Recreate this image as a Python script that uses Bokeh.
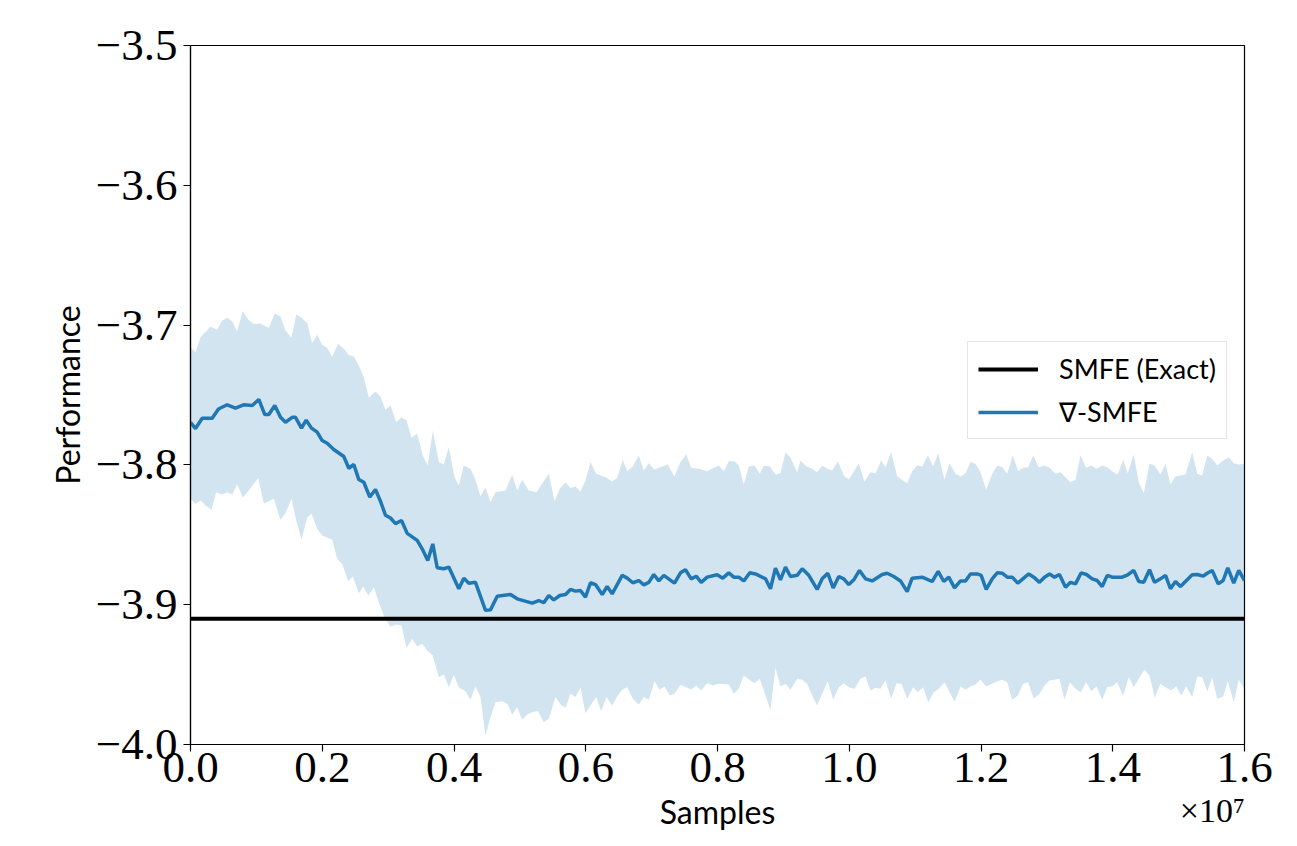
from bokeh.plotting import figure
from bokeh.models import Range1d, FixedTicker, Legend, LegendItem, LinearAxis
from bokeh.embed import file_html
from bokeh.resources import INLINE

# ---------------- data (x in units of 1e7 samples) ----------------
mean_x = [0.0, 0.0076, 0.0178, 0.0329, 0.0425, 0.0557, 0.0683, 0.0805, 0.0937, 0.1037,
          0.1128, 0.1189, 0.128, 0.1366, 0.1442, 0.1544, 0.1594, 0.1685, 0.1756, 0.1837,
          0.1923, 0.1999, 0.2075, 0.2175, 0.2327, 0.2403, 0.2479, 0.2555, 0.2631, 0.2722,
          0.2808, 0.2884, 0.296, 0.3036, 0.3112, 0.3203, 0.329, 0.3441, 0.3517, 0.3602,
          0.3678, 0.3745, 0.3845, 0.3921, 0.4073, 0.4149, 0.4225, 0.4326, 0.4478, 0.4554,
          0.4656, 0.4858, 0.4959, 0.5187, 0.5287, 0.5363, 0.5439, 0.5515, 0.5606, 0.5693,
          0.5768, 0.5844, 0.592, 0.5996, 0.6072, 0.6148, 0.625, 0.6325, 0.6401, 0.6553,
          0.6629, 0.6714, 0.6805, 0.6881, 0.6957, 0.7033, 0.7109, 0.7185, 0.7347, 0.7438,
          0.7514, 0.7601, 0.7677, 0.7752, 0.7844, 0.7995, 0.808, 0.8171, 0.8247, 0.8323,
          0.8399, 0.849, 0.8577, 0.8729, 0.8804, 0.888, 0.8956, 0.9032, 0.9108, 0.921,
          0.9286, 0.9386, 0.9513, 0.9589, 0.9674, 0.9756, 0.9841, 0.9917, 0.9993, 1.0069,
          1.0155, 1.0247, 1.0348, 1.05, 1.0576, 1.0676, 1.0778, 1.0879, 1.0955, 1.1107,
          1.1259, 1.135, 1.1435, 1.1511, 1.1598, 1.1689, 1.1765, 1.184, 1.1942, 1.2003,
          1.2079, 1.217, 1.2246, 1.2322, 1.2398, 1.2474, 1.2558, 1.2649, 1.2725, 1.2801,
          1.2888, 1.2964, 1.304, 1.3116, 1.3191, 1.3283, 1.3359, 1.3435, 1.3521, 1.3601,
          1.3688, 1.3764, 1.384, 1.3916, 1.3991, 1.4143, 1.4228, 1.4319, 1.4395, 1.4471,
          1.4558, 1.4634, 1.4725, 1.4801, 1.4876, 1.4952, 1.5028, 1.5104, 1.5206, 1.5282,
          1.5373, 1.5434, 1.551, 1.56, 1.5676, 1.5746, 1.5837, 1.5913, 1.6]
mean_y = [-3.7695, -3.774, -3.7666, -3.7666, -3.760, -3.757, -3.7594, -3.757, -3.7575, -3.7532,
          -3.764, -3.764, -3.7575, -3.766, -3.7695, -3.766, -3.766, -3.7737, -3.768, -3.7737,
          -3.7766, -3.7826, -3.7845, -3.789, -3.794, -3.8024, -3.7997, -3.8105, -3.8124, -3.823,
          -3.8176, -3.826, -3.836, -3.838, -3.842, -3.8398, -3.849, -3.854, -3.860, -3.8684,
          -3.8565, -3.8736, -3.8743, -3.8731, -3.8886, -3.881, -3.8846, -3.884, -3.904, -3.9037,
          -3.894, -3.8927, -3.8958, -3.8989, -3.897, -3.8986, -3.8934, -3.8965, -3.8934, -3.8927,
          -3.8891, -3.8903, -3.8898, -3.8946, -3.8843, -3.8856, -3.8927, -3.887, -3.8922, -3.879,
          -3.881, -3.8843, -3.8827, -3.8858, -3.884, -3.8784, -3.883, -3.879, -3.8846, -3.8772,
          -3.875, -3.8815, -3.8796, -3.884, -3.8803, -3.8786, -3.881, -3.8772, -3.8803, -3.8803,
          -3.883, -3.8772, -3.878, -3.8815, -3.8886, -3.8738, -3.8822, -3.8731, -3.8798, -3.879,
          -3.8743, -3.879, -3.8891, -3.8815, -3.8775, -3.888, -3.8798, -3.8815, -3.8856, -3.8822,
          -3.8755, -3.8815, -3.883, -3.8784, -3.8775, -3.8798, -3.883, -3.8906, -3.881, -3.8803,
          -3.8834, -3.8762, -3.8834, -3.8803, -3.888, -3.883, -3.883, -3.878, -3.878, -3.879,
          -3.8891, -3.8815, -3.8772, -3.8775, -3.8803, -3.8803, -3.8846, -3.881, -3.878, -3.8803,
          -3.884, -3.8803, -3.878, -3.8803, -3.8784, -3.8875, -3.884, -3.8851, -3.8772, -3.8784,
          -3.8815, -3.8827, -3.887, -3.879, -3.8803, -3.8803, -3.8786, -3.8755, -3.8834, -3.884,
          -3.875, -3.884, -3.8815, -3.879, -3.8886, -3.8834, -3.887, -3.8834, -3.8786, -3.8784,
          -3.8796, -3.8775, -3.8755, -3.8851, -3.8827, -3.8736, -3.8846, -3.8755, -3.8827]

upper_x = [0.0, 0.0076, 0.0152, 0.0304, 0.0405, 0.0481, 0.0557, 0.0633, 0.0709, 0.0794,
           0.0876, 0.0956, 0.1063, 0.1189, 0.128, 0.1366, 0.1442, 0.1533, 0.1605, 0.1685,
           0.1772, 0.1847, 0.1923, 0.1999, 0.2075, 0.2151, 0.2242, 0.2327, 0.2403, 0.2479,
           0.2555, 0.2631, 0.2707, 0.2808, 0.2884, 0.296, 0.3036, 0.3123, 0.3203, 0.3279,
           0.3355, 0.3441, 0.3526, 0.3602, 0.3678, 0.3769, 0.3845, 0.3921, 0.4008, 0.4073,
           0.4149, 0.425, 0.4326, 0.4402, 0.4478, 0.4554, 0.463, 0.4782, 0.4883, 0.4959,
           0.5035, 0.5135, 0.5252, 0.5339, 0.5439, 0.5526, 0.5606, 0.5693, 0.5768, 0.5844,
           0.592, 0.5996, 0.6072, 0.6158, 0.63, 0.6401, 0.6477, 0.6562, 0.6629, 0.6714,
           0.6805, 0.6881, 0.6957, 0.7044, 0.7135, 0.7245, 0.7347, 0.7438, 0.7525, 0.7601,
           0.7716, 0.7844, 0.7944, 0.802, 0.8096, 0.8171, 0.8258, 0.8323, 0.8399, 0.8475,
           0.8562, 0.8642, 0.8703, 0.8794, 0.888, 0.8956, 0.9032, 0.9108, 0.921, 0.926,
           0.9351, 0.9437, 0.9513, 0.9589, 0.9665, 0.9741, 0.9826, 0.9917, 0.9993, 1.0145,
           1.0231, 1.0322, 1.0398, 1.0485, 1.055, 1.0637, 1.0728, 1.0879, 1.0955, 1.1031,
           1.1107, 1.1192, 1.1274, 1.135, 1.1446, 1.1522, 1.1613, 1.1689, 1.1765, 1.184,
           1.1916, 1.1992, 1.2079, 1.217, 1.2246, 1.2322, 1.2398, 1.2483, 1.2564, 1.264,
           1.2716, 1.2792, 1.2877, 1.2964, 1.304, 1.3131, 1.3207, 1.3358, 1.3434, 1.351,
           1.3597, 1.3673, 1.3753, 1.384, 1.3916, 1.3991, 1.4076, 1.4158, 1.4228, 1.4319,
           1.4395, 1.4471, 1.4558, 1.4634, 1.4725, 1.4801, 1.4876, 1.4952, 1.5104, 1.5206,
           1.5282, 1.5358, 1.5434, 1.551, 1.5586, 1.5677, 1.5762, 1.5838, 1.5913, 1.6]
upper_y = [-3.7158, -3.7194, -3.7087, -3.701, -3.7034, -3.6967, -3.6948, -3.6972, -3.7044, -3.69,
           -3.6962, -3.699, -3.699, -3.702, -3.6915, -3.6938, -3.7039, -3.709, -3.6924, -3.6948,
           -3.6986, -3.713, -3.7069, -3.7141, -3.7163, -3.7225, -3.7134, -3.717, -3.7213, -3.7225,
           -3.7289, -3.7373, -3.752, -3.7475, -3.751, -3.7606, -3.7575, -3.7695, -3.766, -3.768,
           -3.7806, -3.7778, -3.7933, -3.8004, -3.7754, -3.798, -3.7997, -3.7873, -3.8088, -3.8147,
           -3.8004, -3.8028, -3.8107, -3.8226, -3.816, -3.8267, -3.8195, -3.8183, -3.8069, -3.8183,
           -3.8107, -3.8183, -3.8195, -3.8135, -3.8064, -3.826, -3.8171, -3.8124, -3.8166, -3.8155,
           -3.819, -3.8112, -3.798, -3.8064, -3.8088, -3.8119, -3.8093, -3.7963, -3.8045, -3.8011,
           -3.7933, -3.804, -3.7988, -3.8035, -3.8016, -3.7997, -3.8083, -3.798, -3.7926, -3.802,
           -3.8028, -3.8045, -3.802, -3.8004, -3.8045, -3.7973, -3.7973, -3.8004, -3.814, -3.8011,
           -3.8004, -3.8064, -3.8004, -3.8011, -3.8069, -3.806, -3.7909, -3.7949, -3.8052, -3.7969,
           -3.8011, -3.8028, -3.8052, -3.8004, -3.8028, -3.804, -3.7973, -3.8076, -3.8107, -3.7988,
           -3.8119, -3.8052, -3.806, -3.7969, -3.8016, -3.7909, -3.8083, -3.8131, -3.8045, -3.8004,
           -3.8011, -3.7933, -3.8011, -3.7916, -3.8107, -3.7988, -3.8064, -3.8083, -3.806, -3.798,
           -3.7992, -3.8052, -3.8178, -3.8064, -3.8004, -3.8016, -3.8064, -3.7933, -3.8045, -3.802,
           -3.8016, -3.7933, -3.8016, -3.8004, -3.802, -3.8064, -3.8052, -3.8124, -3.8107, -3.7933,
           -3.802, -3.8004, -3.8028, -3.8004, -3.8016, -3.8045, -3.8069, -3.7963, -3.806, -3.7926,
           -3.8124, -3.8202, -3.7992, -3.8004, -3.8069, -3.7992, -3.814, -3.8083, -3.8069, -3.7909,
           -3.8064, -3.8076, -3.7933, -3.7957, -3.8004, -3.7969, -3.7945, -3.7988, -3.7997, -3.7992]

lower_x = [0.0, 0.0076, 0.0152, 0.0228, 0.0319, 0.039, 0.0481, 0.0557, 0.0633, 0.0709,
           0.0794, 0.0885, 0.1028, 0.1113, 0.1189, 0.1264, 0.1366, 0.1442, 0.1533, 0.1605,
           0.1685, 0.1772, 0.1837, 0.1923, 0.1999, 0.2151, 0.2227, 0.2303, 0.2394, 0.2464,
           0.2555, 0.2622, 0.2698, 0.2783, 0.2858, 0.2945, 0.3036, 0.3123, 0.3203, 0.3279,
           0.3365, 0.3441, 0.3517, 0.3602, 0.3678, 0.3769, 0.3845, 0.3921, 0.3997, 0.4073,
           0.4175, 0.425, 0.4326, 0.4402, 0.4478, 0.4554, 0.463, 0.4732, 0.4808, 0.4883,
           0.4959, 0.5035, 0.5111, 0.5187, 0.5272, 0.5363, 0.5439, 0.5541, 0.5617, 0.5693,
           0.5768, 0.5844, 0.592, 0.5996, 0.6072, 0.6158, 0.6234, 0.6315, 0.6401, 0.6477,
           0.6553, 0.6629, 0.6714, 0.6805, 0.6881, 0.6957, 0.7044, 0.7119, 0.7195, 0.7276,
           0.7347, 0.7438, 0.7525, 0.7601, 0.7677, 0.7752, 0.7844, 0.7929, 0.8004, 0.8171,
           0.8247, 0.8323, 0.8399, 0.8486, 0.8562, 0.8642, 0.8729, 0.8804, 0.888, 0.8956,
           0.9032, 0.9108, 0.921, 0.9286, 0.9361, 0.9437, 0.9513, 0.9589, 0.9674, 0.9756,
           0.9841, 0.9917, 0.9993, 1.0079, 1.017, 1.0247, 1.0322, 1.0398, 1.0474, 1.055,
           1.0637, 1.0717, 1.0793, 1.0879, 1.0971, 1.1041, 1.1122, 1.1198, 1.1283, 1.1359,
           1.1446, 1.1522, 1.1602, 1.1689, 1.1765, 1.184, 1.1916, 1.1992, 1.2079, 1.217,
           1.2246, 1.2322, 1.2398, 1.2474, 1.2558, 1.264, 1.2716, 1.2801, 1.2888, 1.2964,
           1.304, 1.3116, 1.3191, 1.3267, 1.3348, 1.3434, 1.351, 1.3597, 1.3673, 1.3753,
           1.384, 1.3916, 1.3991, 1.4067, 1.4158, 1.4243, 1.4319, 1.4395, 1.4482, 1.4558,
           1.4638, 1.4725, 1.4801, 1.4887, 1.4963, 1.5039, 1.5115, 1.5206, 1.5282, 1.5358,
           1.5434, 1.551, 1.5586, 1.5677, 1.5746, 1.5838, 1.5913, 1.6]
lower_y = [-3.8243, -3.8278, -3.8255, -3.829, -3.8321, -3.8195, -3.8212, -3.8195, -3.8212, -3.814,
           -3.8231, -3.8183, -3.8093, -3.8278, -3.826, -3.8243, -3.8393, -3.8345, -3.8243, -3.8398,
           -3.8536, -3.8374, -3.835, -3.8457, -3.8505, -3.8536, -3.8672, -3.8708, -3.8834, -3.8798,
           -3.8918, -3.887, -3.8934, -3.8875, -3.8982, -3.9089, -3.9156, -3.9142, -3.9149, -3.9308,
           -3.9244, -3.9299, -3.928, -3.9333, -3.9363, -3.9519, -3.95, -3.959, -3.9502, -3.959,
           -3.9619, -3.968, -3.9585, -3.9661, -3.9936, -3.9805, -3.9697, -3.969, -3.9709, -3.9785,
           -3.9733, -3.9823, -3.9785, -3.9769, -3.9761, -3.984, -3.9816, -3.9661, -3.9714, -3.9737,
           -3.9637, -3.9661, -3.9594, -3.9776, -3.9721, -3.9661, -3.9761, -3.9661, -3.9721, -3.9657,
           -3.9609, -3.959, -3.9673, -3.9714, -3.9661, -3.968, -3.9547, -3.9609, -3.9585, -3.965,
           -3.9637, -3.9573, -3.959, -3.9609, -3.9578, -3.9614, -3.9561, -3.9578, -3.9566, -3.957,
           -3.9637, -3.9602, -3.9506, -3.9537, -3.9561, -3.953, -3.965, -3.9757, -3.9451, -3.9585,
           -3.9566, -3.9609, -3.953, -3.9537, -3.9566, -3.965, -3.9721, -3.9637, -3.9547, -3.968,
           -3.959, -3.9561, -3.959, -3.9602, -3.953, -3.9514, -3.9614, -3.9594, -3.9602, -3.9542,
           -3.9673, -3.9561, -3.9566, -3.9673, -3.959, -3.9626, -3.959, -3.9697, -3.9626, -3.9602,
           -3.9554, -3.9626, -3.9692, -3.9585, -3.9609, -3.9585, -3.957, -3.9537, -3.9585, -3.9566,
           -3.9547, -3.9537, -3.9554, -3.968, -3.965, -3.9566, -3.9554, -3.9673, -3.9637, -3.9578,
           -3.9542, -3.9537, -3.953, -3.968, -3.9554, -3.9602, -3.9626, -3.9554, -3.9619, -3.9585,
           -3.968, -3.959, -3.9585, -3.9554, -3.965, -3.9519, -3.959, -3.953, -3.9466, -3.9506,
           -3.9666, -3.9566, -3.959, -3.9614, -3.9585, -3.965, -3.9585, -3.9661, -3.9514, -3.9519,
           -3.9619, -3.9523, -3.9673, -3.9657, -3.9547, -3.9697, -3.9537, -3.9602]

smfe_exact = -3.91

x_ticks = [0.0, 0.2, 0.4, 0.6, 0.8, 1.0, 1.2, 1.4, 1.6]
x_tick_labels = ["0.0", "0.2", "0.4", "0.6", "0.8", "1.0", "1.2", "1.4", "1.6"]
y_ticks = [-4.0, -3.9, -3.8, -3.7, -3.6, -3.5]
y_tick_labels = ["\u22124.0", "\u22123.9", "\u22123.8", "\u22123.7", "\u22123.6", "\u22123.5"]
x_multiplier = "\u00d710\u2077"

series_names = ["SMFE (Exact)", "\u2207-SMFE"]
BLUE = "#1f77b4"

# ---------------- figure ----------------
p = figure(frame_width=1054, frame_height=699, output_backend="svg", toolbar_location=None,
           x_range=Range1d(0.0, 1.6), y_range=Range1d(-4.0, -3.5),
           min_border_left=190, min_border_right=53, min_border_top=45, min_border_bottom=102)
p.grid.visible = False
p.outline_line_color = "black"
p.outline_line_width = 1.2
p.background_fill_color = "white"
p.border_fill_color = "white"

band_x = upper_x + lower_x[::-1]
band_y = upper_y + lower_y[::-1]
p.patch(band_x, band_y, fill_color=BLUE, fill_alpha=0.2, line_color=None)

r_exact = p.line([mean_x[0], mean_x[-1]], [smfe_exact, smfe_exact], line_color="black", line_width=4)
r_mean = p.line(mean_x, mean_y, line_color=BLUE, line_width=3.5)

for ax in (p.xaxis[0], p.yaxis[0]):
    ax.axis_line_color = "black"
    ax.axis_line_width = 1.2
    ax.major_tick_line_color = "black"
    ax.major_tick_line_width = 1.2
    ax.major_tick_out = 7
    ax.major_tick_in = 0
    ax.minor_tick_line_color = None
    ax.major_label_text_font = "Liberation Serif"
    ax.major_label_text_font_size = "45px"
    ax.major_label_text_color = "black"
    ax.axis_label_text_font = "Lato"
    ax.axis_label_text_font_size = "32px"
    ax.axis_label_text_font_style = "normal"
    ax.axis_label_text_color = "black"

p.xaxis[0].ticker = FixedTicker(ticks=x_ticks)
p.xaxis[0].major_label_overrides = dict(zip(x_ticks, x_tick_labels))
p.xaxis[0].axis_label = "Samples"
p.xaxis[0].major_label_standoff = 1
p.xaxis[0].axis_label_standoff = 7

p.yaxis[0].ticker = FixedTicker(ticks=y_ticks)
p.yaxis[0].major_label_overrides = dict(zip(y_ticks, y_tick_labels))
p.yaxis[0].axis_label = "Performance"
p.yaxis[0].major_label_standoff = 6
p.yaxis[0].axis_label_standoff = 6

# multiplier "x10^7" drawn as the single label of an extra bottom axis, pulled up beside "Samples"
mult_tick = 1.551
ax2 = LinearAxis(ticker=FixedTicker(ticks=[mult_tick]),
                 major_label_overrides={mult_tick: x_multiplier},
                 axis_line_color=None, major_tick_line_color=None, minor_tick_line_color=None,
                 major_label_text_font="Liberation Serif", major_label_text_font_size="34px",
                 major_label_text_color="black", major_label_standoff=-48)
p.add_layout(ax2, "below")

legend = Legend(items=[LegendItem(label=series_names[0], renderers=[r_exact]),
                       LegendItem(label=series_names[1], renderers=[r_mean])],
                location=(777, 305))
legend.label_text_font = "Lato"
legend.label_text_font_size = "27px"
legend.label_text_color = "black"
legend.glyph_width = 60
legend.glyph_height = 30
legend.label_height = 30
legend.label_standoff = 21
legend.spacing = 10
legend.padding = 10
legend.margin = 0
legend.border_line_color = "#cccccc"
legend.border_line_width = 1.5
legend.background_fill_color = "white"
legend.background_fill_alpha = 0.8
p.add_layout(legend)

open("out.html", "w").write(file_html(p, INLINE))
